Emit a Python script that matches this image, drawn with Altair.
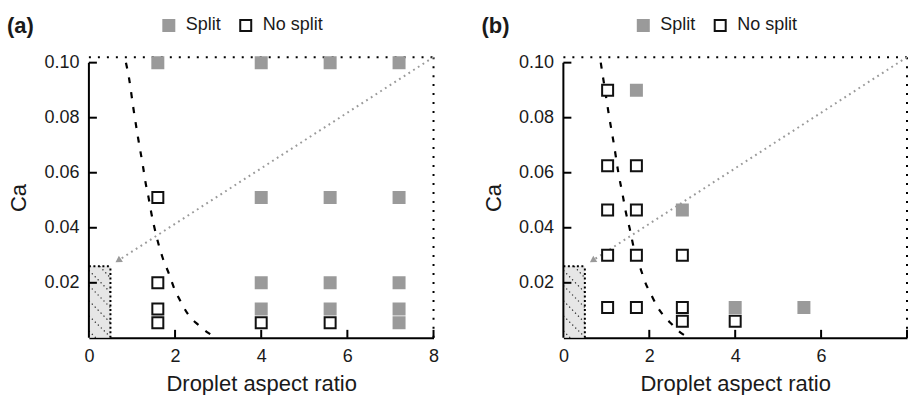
import altair as alt
import pandas as pd

FONT = "Liberation Sans"
GRAY = "#9a9a9a"

# ---------------- data ----------------
# Panel (a)
a_split_x = [1.6, 4.0, 5.6, 7.2, 4.0, 5.6, 7.2, 4.0, 5.6, 7.2, 4.0, 5.6, 7.2, 7.2]
a_split_y = [0.100, 0.100, 0.100, 0.100, 0.051, 0.051, 0.051, 0.020, 0.020, 0.020,
             0.0105, 0.0105, 0.0105, 0.0055]
a_nosplit_x = [1.6, 1.6, 1.6, 1.6, 4.0, 5.6]
a_nosplit_y = [0.051, 0.020, 0.0105, 0.0055, 0.0055, 0.0055]
a_curve_x = [0.86, 0.93, 1.03, 1.14, 1.26, 1.32, 1.38, 1.45, 1.57, 1.71, 1.86, 1.98,
             2.12, 2.30, 2.54, 2.78, 2.92]
a_curve_y = [0.100, 0.0945, 0.0837, 0.0728, 0.0619, 0.056, 0.0514, 0.0453, 0.0368,
             0.0292, 0.0232, 0.0180, 0.0135, 0.0086, 0.0047, 0.0017, 0.0004]

# Panel (b)
b_split_x = [1.7, 2.77, 4.0, 5.6]
b_split_y = [0.090, 0.0465, 0.011, 0.011]
b_nosplit_x = [1.03, 1.03, 1.7, 1.03, 1.7, 1.03, 1.7, 2.77, 1.03, 1.7, 2.77, 2.77, 4.0]
b_nosplit_y = [0.090, 0.0625, 0.0625, 0.0465, 0.0465, 0.030, 0.030, 0.030,
               0.011, 0.011, 0.011, 0.006, 0.006]
b_curve_x = [0.87, 0.95, 1.07, 1.18, 1.28, 1.38, 1.45, 1.54, 1.68, 1.80, 1.91, 2.05,
             2.18, 2.35, 2.52, 2.72, 2.88]
b_curve_y = [0.100, 0.092, 0.080, 0.070, 0.060, 0.052, 0.046, 0.040, 0.030, 0.025,
             0.020, 0.0155, 0.0115, 0.0078, 0.0050, 0.0020, 0.0004]

# shared guide values
a_x_labels = [0, 2, 4, 6, 8]
b_x_labels = [0, 2, 4, 6]          # the "8" of panel (b) is cut off by the frame
x_ticks = [2, 4, 6, 8]
y_ticks = [0.02, 0.04, 0.06, 0.08, 0.10]
X_MAX = 8
Y_TOP = 0.102
box_x = [0, 0.5]
box_y = [0, 0.026]
arrow_from = (8, 0.102)
arrow_to = (0.68, 0.0281)
outcomes = ["Split", "No split"]

H = 281


def panel(label, split_x, split_y, ns_x, ns_y, curve_x, curve_y, x_labels, W):
    xs = alt.Scale(domain=[0, X_MAX], nice=False, zero=False)
    ys = alt.Scale(domain=[0, Y_TOP], nice=False, zero=False)

    x_axis = alt.Axis(values=x_labels, format="d", ticks=False, domain=True,
                      domainColor="black", domainWidth=2, grid=False,
                      labelFontSize=18, labelFont=FONT, labelColor="#1a1a1a",
                      labelPadding=10, labelFlush=False,
                      title="Droplet aspect ratio", titleFontSize=22,
                      titleFont=FONT, titleFontWeight="normal",
                      titleColor="#1a1a1a", titlePadding=8)
    y_axis = alt.Axis(values=y_ticks, format=".2f", ticks=False, domain=False,
                      grid=False, labelFontSize=18, labelFont=FONT,
                      labelColor="#1a1a1a", labelPadding=10, labelFlush=False,
                      title="Ca", titleFontSize=22, titleFont=FONT,
                      titleFontWeight="normal", titleColor="#1a1a1a",
                      titlePadding=13)

    def X(f):
        return alt.X(f, scale=xs, axis=x_axis, title="Droplet aspect ratio")

    def Y(f):
        return alt.Y(f, scale=ys, axis=y_axis, title="Ca")

    pts = pd.DataFrame({
        "ar": split_x + ns_x,
        "ca": split_y + ns_y,
        "Outcome": ["Split"] * len(split_x) + ["No split"] * len(ns_x),
    })
    curve = pd.DataFrame({"ar": curve_x, "ca": curve_y})

    # shaded box in the lower-left corner
    box = alt.Chart(pd.DataFrame({"x0": [box_x[0]], "x1": [box_x[1]],
                                  "y0": [box_y[0]], "y1": [box_y[1]]})).mark_rect(
        color="#e6e6e6").encode(x=X("x0:Q"), x2="x1:Q", y=Y("y0:Q"), y2="y1:Q")

    # hatch lines inside the box
    hatch = pd.DataFrame({
        "x0": [0.25, 0.0, 0.0, 0.0, 0.0, 0.0],
        "y0": [0.026, 0.0245, 0.019, 0.0135, 0.008, 0.0025],
        "x1": [0.5, 0.5, 0.5, 0.5, 0.5, 0.16],
        "y1": [0.0218, 0.0165, 0.011, 0.0055, 0.0003, 0.0],
    })
    hatch_l = alt.Chart(hatch).mark_rule(color="#222222", strokeWidth=1.2,
                                         strokeDash=[1.2, 3]).encode(
        x=X("x0:Q"), x2="x1:Q", y=Y("y0:Q"), y2="y1:Q")

    box_edges = pd.DataFrame({
        "x0": [box_x[0], box_x[1]], "x1": [box_x[1], box_x[1]],
        "y0": [box_y[1], box_y[0]], "y1": [box_y[1], box_y[1]],
    })
    box_edge_l = alt.Chart(box_edges).mark_rule(color="black", strokeWidth=2,
                                                strokeDash=[2, 2.5]).encode(
        x=X("x0:Q"), x2="x1:Q", y=Y("y0:Q"), y2="y1:Q")

    # dotted frame on top and right
    frame = pd.DataFrame({
        "x0": [0, X_MAX], "x1": [X_MAX, X_MAX],
        "y0": [Y_TOP, 0], "y1": [Y_TOP, Y_TOP],
    })
    frame_l = alt.Chart(frame).mark_rule(color="black", strokeWidth=2,
                                         strokeDash=[2, 7]).encode(
        x=X("x0:Q"), x2="x1:Q", y=Y("y0:Q"), y2="y1:Q")

    # left axis line (stops at 0.10)
    yline = pd.DataFrame({"x0": [0], "y0": [0], "y1": [y_ticks[-1]]})
    yline_l = alt.Chart(yline).mark_rule(color="black", strokeWidth=2).encode(
        x=X("x0:Q"), y=Y("y0:Q"), y2="y1:Q")

    # inward ticks
    ytick_l = alt.Chart(pd.DataFrame({"v": y_ticks})).mark_rule(
        color="black", strokeWidth=2).encode(
        y=Y("v:Q"), x=alt.value(0), x2=alt.value(8))
    xtick_l = alt.Chart(pd.DataFrame({"v": x_ticks})).mark_rule(
        color="black", strokeWidth=2).encode(
        x=X("v:Q"), y=alt.value(H), y2=alt.value(H - 8))

    # gray dotted arrow
    arr = pd.DataFrame({"x0": [arrow_from[0]], "y0": [arrow_from[1]],
                        "x1": [arrow_to[0]], "y1": [arrow_to[1]]})
    arr_l = alt.Chart(arr).mark_rule(color=GRAY, strokeWidth=2,
                                     strokeDash=[1.8, 3.8]).encode(
        x=X("x0:Q"), x2="x1:Q", y=Y("y0:Q"), y2="y1:Q")
    head_l = alt.Chart(arr).mark_point(shape="triangle-up", filled=True,
                                       color=GRAY, opacity=1, size=55,
                                       angle=237).encode(
        x=X("x1:Q"), y=Y("y1:Q"))

    # dashed boundary curve
    curve_l = alt.Chart(curve).mark_line(color="black", strokeWidth=2.2,
                                         strokeDash=[6, 9],
                                         interpolate="monotone").encode(
        x=X("ar:Q"), y=Y("ca:Q"), order="ar:Q")

    leg = alt.Legend(orient="none", legendX=71, legendY=-41,
                     direction="horizontal", title=None, padding=0,
                     labelFontSize=18, labelFont=FONT, labelColor="#1a1a1a",
                     symbolSize=121, symbolStrokeWidth=2, symbolType="square",
                     labelOffset=8, columnPadding=14)
    pts_l = alt.Chart(pts).mark_square(size=121, strokeWidth=2,
                                       opacity=1).encode(
        x=X("ar:Q"), y=Y("ca:Q"),
        fill=alt.Fill("Outcome:N", scale=alt.Scale(domain=outcomes,
                                                   range=[GRAY, "white"]),
                      legend=leg),
        stroke=alt.Stroke("Outcome:N", scale=alt.Scale(domain=outcomes,
                                                       range=[GRAY, "#111111"]),
                          legend=leg),
    )

    lab = alt.Chart(pd.DataFrame({"t": [label]})).mark_text(
        align="left", baseline="alphabetic", fontSize=22, fontWeight="bold",
        font=FONT, color="#1a1a1a").encode(
        text="t:N", x=alt.value(-82), y=alt.value(-24.5))

    return alt.layer(box, hatch_l, box_edge_l, frame_l, arr_l, head_l, curve_l,
                     yline_l, ytick_l, xtick_l, pts_l, lab).properties(
        width=W, height=H)


pa = panel("(a)", a_split_x, a_split_y, a_nosplit_x, a_nosplit_y,
           a_curve_x, a_curve_y, a_x_labels, 345)
pb = panel("(b)", b_split_x, b_split_y, b_nosplit_x, b_nosplit_y,
           b_curve_x, b_curve_y, b_x_labels, 344)

chart = alt.hconcat(pa, pb, spacing=42).resolve_scale(
    fill="independent", stroke="independent").resolve_legend(
    fill="independent", stroke="independent").properties(
    padding={"left": 7, "top": 14, "right": 0, "bottom": 0},
    background="white").configure_view(stroke=None)

chart.save("out.html", embed_options={"renderer": "svg", "actions": False})
